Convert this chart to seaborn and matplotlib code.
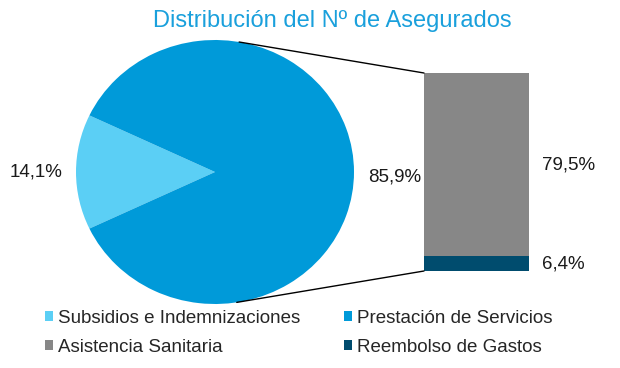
import matplotlib
matplotlib.use("Agg")
import matplotlib.pyplot as plt
import numpy as np
import pandas as pd
import seaborn as sns
from matplotlib.patches import ConnectionPatch, Patch

pie_labels = ["Subsidios e Indemnizaciones", "Prestación de Servicios"]
pie_values = [14.1, 85.9]
bar_labels = ["Asistencia Sanitaria", "Reembolso de Gastos"]
bar_values = [79.5, 6.4]

COLORS = {
    "Subsidios e Indemnizaciones": "#5BCFF5",
    "Prestación de Servicios": "#009AD9",
    "Asistencia Sanitaria": "#878787",
    "Reembolso de Gastos": "#004C6E",
}

sns.set_theme(style="white")
plt.rcParams["font.family"] = ["Liberation Sans", "DejaVu Sans"]


def pct(v):
    return f"{v:.1f}".replace(".", ",") + "%"


fig = plt.figure(figsize=(6.2, 3.68), dpi=100)

# pie on the left
ax_pie = fig.add_axes([76 / 620, 64 / 368, 278 / 620, 264 / 368])
start = 180 - pie_values[0] * 360 / 100 / 2
wedges, texts = ax_pie.pie(
    pie_values,
    labels=[pct(v) for v in pie_values],
    colors=[COLORS[l] for l in pie_labels],
    startangle=start,
    counterclock=True,
    labeldistance=1.29,
    wedgeprops={"linewidth": 0},
    textprops={"fontsize": 13.5, "color": "#1a1a1a"},
)
for t in texts:
    t.set_ha("center")
    t.set_va("center")
texts[1].set_y(texts[1].get_position()[1] - 0.04)
ax_pie.set_aspect("auto")
ax_pie.set_xlim(-1, 1)
ax_pie.set_ylim(-1, 1)
ax_pie.axis("off")

# stacked bar on the right
ax_bar = fig.add_axes([424 / 620, 97 / 368, 105 / 620, 198 / 368])
df = pd.DataFrame({"x": ["a"], "total": [sum(bar_values)], "low": [bar_values[1]]})
sns.barplot(data=df, x="x", y="total", color=COLORS[bar_labels[0]],
            width=1, saturation=1, ax=ax_bar, linewidth=0)
sns.barplot(data=df, x="x", y="low", color=COLORS[bar_labels[1]],
            width=1, saturation=1, ax=ax_bar, linewidth=0)
ax_bar.set_xlim(-0.5, 0.5)
ax_bar.set_ylim(0, sum(bar_values))
ax_bar.axis("off")

mids = [bar_values[1] + bar_values[0] / 2, bar_values[1] / 2]
for v, m in zip(bar_values, mids):
    ax_bar.text(0.62, m, pct(v), ha="left", va="center",
                fontsize=13.5, color="#1a1a1a")

# connector lines between pie and bar
for ang, yb in [(80, sum(bar_values)), (-81, 0)]:
    xa, ya = np.cos(np.radians(ang)), np.sin(np.radians(ang))
    con = ConnectionPatch(xyA=(xa, ya), coordsA=ax_pie.transData,
                          xyB=(-0.5, yb), coordsB=ax_bar.transData,
                          color="black", linewidth=1)
    fig.add_artist(con)

fig.text(332 / 620, 1 - 27 / 368, "Distribución del Nº de Asegurados",
         ha="center", va="baseline", fontsize=17, color="#1AA0DC")

order = [pie_labels[0], bar_labels[0], pie_labels[1], bar_labels[1]]
handles = [Patch(facecolor=COLORS[l], edgecolor="none") for l in order]
fig.legend(handles, order, ncol=2, loc="upper left",
           bbox_to_anchor=(45 / 620, 1 - 310 / 368), frameon=False,
           fontsize=13.5, handlelength=0.43, handleheight=0.43,
           handletextpad=0.27, columnspacing=2.3, labelspacing=0.64,
           borderpad=0, borderaxespad=0)

plt.savefig("out.png", dpi=100)
